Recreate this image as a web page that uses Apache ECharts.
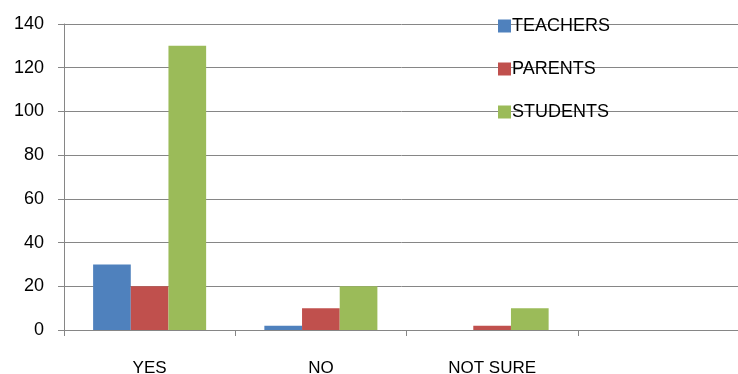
<!DOCTYPE html>
<html>
<head>
<meta charset="utf-8">
<script src="https://cdn.jsdelivr.net/npm/echarts@6/dist/echarts.min.js"></script>
<style>
  html, body { margin: 0; padding: 0; background: #fff; }
  #chart { width: 738px; height: 374px; }
</style>
</head>
<body>
<div id="chart"></div>
<script>
const categories = ['YES', 'NO', 'NOT SURE', ''];
const teachers = [30, 2, 0, null];
const parents = [20, 10, 2, null];
const students = [130, 20, 10, null];
const yTicks = { min: 0, max: 140, interval: 20 };

const chart = echarts.init(document.getElementById('chart'));
const font = 'Liberation Sans, Arial, sans-serif';
chart.setOption({
    animation: false,
    color: ['#4F81BD', '#C0504D', '#9BBB59'],
    // 4th (empty) category runs past the right edge, like the original
    grid: { left: 64, width: 685, top: 24, bottom: 44, outerBoundsMode: 'none', containLabel: false },
    legend: {
        orient: 'vertical',
        left: 498,
        top: 17,
        padding: 0,
        itemWidth: 13,
        itemHeight: 13,
        itemGap: 25,
        icon: 'rect',
        textStyle: { fontFamily: font, fontSize: 18, color: '#000', padding: [0, 0, 0, -4] },
        data: ['TEACHERS', 'PARENTS', 'STUDENTS']
    },
    xAxis: {
        type: 'category',
        data: categories,
        axisLine: { lineStyle: { color: '#868686' } },
        axisTick: { show: true, length: 6, lineStyle: { color: '#868686' } },
        axisLabel: { fontFamily: font, fontSize: 17, color: '#000', margin: 30 }
    },
    yAxis: {
        type: 'value',
        min: yTicks.min,
        max: yTicks.max,
        interval: yTicks.interval,
        axisLine: { show: true, lineStyle: { color: '#868686' } },
        axisTick: { show: true, length: 6, lineStyle: { color: '#868686' } },
        splitLine: { lineStyle: { color: '#868686' } },
        axisLabel: { fontFamily: font, fontSize: 18, color: '#000', margin: 20 }
    },
    series: [
        { name: 'TEACHERS', type: 'bar', data: teachers, barGap: '0%', barCategoryGap: '34%' },
        { name: 'PARENTS', type: 'bar', data: parents, barGap: '0%', barCategoryGap: '34%' },
        { name: 'STUDENTS', type: 'bar', data: students, barGap: '0%', barCategoryGap: '34%' }
    ]
});
</script>
</body>
</html>
